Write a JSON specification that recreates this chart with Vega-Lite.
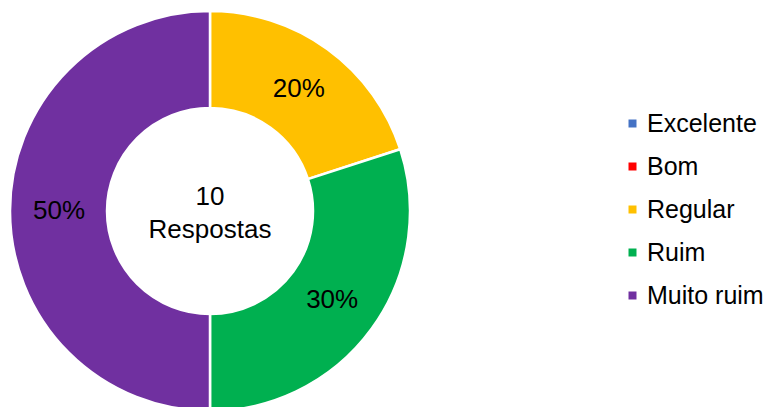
{
  "$schema": "https://vega.github.io/schema/vega-lite/v6.json",
  "width": 420,
  "height": 422,
  "autosize": {"type": "none"},
  "padding": {"left": 0, "top": 0, "right": 354, "bottom": 0},
  "background": "white",
  "config": {"view": {"stroke": null}, "font": "Liberation Sans"},
  "data": {
    "values": [
      {"categoria": "Excelente", "valor": 0, "ordem": 1},
      {"categoria": "Bom", "valor": 0, "ordem": 2},
      {"categoria": "Regular", "valor": 0.2, "ordem": 3},
      {"categoria": "Ruim", "valor": 0.3, "ordem": 4},
      {"categoria": "Muito ruim", "valor": 0.5, "ordem": 5}
    ]
  },
  "layer": [
    {
      "mark": {"type": "arc", "innerRadius": 103, "outerRadius": 200, "stroke": "white", "strokeWidth": 2.5},
      "encoding": {
        "theta": {"field": "valor", "type": "quantitative", "stack": true},
        "order": {"field": "ordem", "type": "quantitative"},
        "color": {
          "field": "categoria",
          "type": "nominal",
          "scale": {
            "domain": ["Excelente", "Bom", "Regular", "Ruim", "Muito ruim"],
            "range": ["#4472C4", "#FF0000", "#FFC000", "#00B050", "#7030A0"]
          },
          "legend": {
            "title": null,
            "orient": "none",
            "legendX": 620,
            "legendY": 111,
            "padding": 0,
            "symbolType": "square",
            "symbolSize": 64,
            "symbolStrokeWidth": 0,
            "labelFont": "Liberation Sans",
            "labelFontSize": 25,
            "labelColor": "black",
            "labelOffset": 2,
            "rowPadding": 17,
            "labelLimit": 300
          }
        }
      }
    },
    {
      "transform": [{"filter": "datum.valor > 0"}],
      "mark": {"type": "text", "radius": 151, "fontSize": 26, "font": "Liberation Sans", "color": "black"},
      "encoding": {
        "theta": {"field": "valor", "type": "quantitative", "stack": true},
        "order": {"field": "ordem", "type": "quantitative"},
        "text": {"field": "valor", "type": "quantitative", "format": ".0%"}
      }
    },
    {
      "data": {"values": [{"rotulo": "10\nRespostas"}]},
      "mark": {"type": "text", "fontSize": 26, "font": "Liberation Sans", "color": "black", "lineBreak": "\n", "lineHeight": 33, "baseline": "middle", "dy": -14},
      "encoding": {
        "text": {"field": "rotulo", "type": "nominal"}
      }
    }
  ]
}
